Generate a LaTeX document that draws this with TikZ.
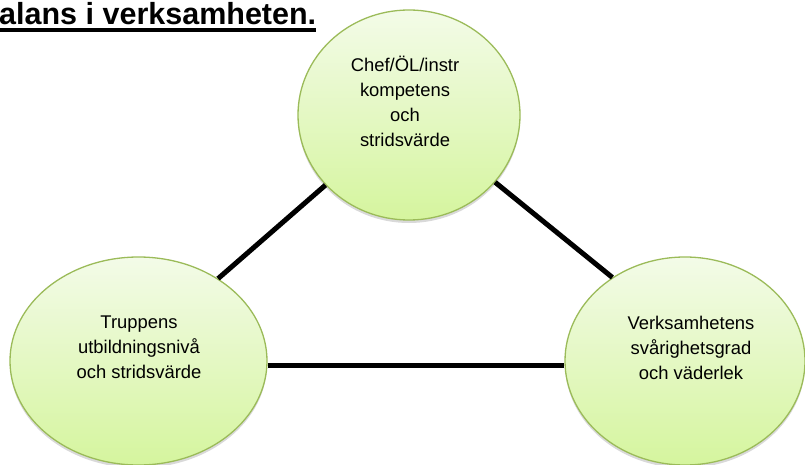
\documentclass[tikz,border=0pt]{standalone}
\usepackage{fontspec}
\setmainfont{Liberation Sans}
\usetikzlibrary{shapes.geometric,shadows}
\definecolor{randgruen}{RGB}{155,187,89}
\definecolor{obengruen}{RGB}{243,251,232}
\definecolor{untengruen}{RGB}{213,245,158}
\begin{document}
\begin{tikzpicture}[
    kreis/.style={ellipse, draw=randgruen, line width=1.3pt, inner sep=0pt,
        top color=obengruen, bottom color=untengruen,
        drop shadow={shadow xshift=0pt, shadow yshift=-3pt, opacity=0.3}},
    beschr/.style={align=center, inner sep=0pt, font=\fontsize{18.4pt}{25pt}\selectfont},
    verbindung/.style={line width=5pt}
  ]
    \useasboundingbox (0pt,0pt) rectangle (805pt, -465pt);
    \node[anchor=base west, inner sep=0pt, font=\fontsize{30.5pt}{36pt}\selectfont\bfseries] (titel) at (-1pt, -25pt) {alans i verksamheten.};
    \fill ([yshift=-3.5pt]titel.base west) rectangle ([yshift=-7pt]titel.base east);
    \node[kreis, minimum width=222pt, minimum height=210pt] (chef) at (409pt, -115pt) {};
    \node[kreis, minimum width=257pt, minimum height=208pt] (trupp) at (138.5pt, -361pt) {};
    \node[kreis, minimum width=240pt, minimum height=208pt] (verks) at (685pt, -361pt) {};
    \node[beschr] (chefText) at (405pt, -101pt) {Chef/ÖL/instr\\kompetens\\och\\stridsvärde};
    \node[beschr] (truppText) at (139pt, -347pt) {Truppens\\utbildningsnivå\\och stridsvärde};
    \node[beschr] (verksText) at (691pt, -348pt) {Verksamhetens\\svårighetsgrad\\och väderlek};
    \draw[verbindung] (chef.220.3) -- (trupp.46.2);
    \draw[verbindung] (chef.-38.2) -- (verks.131.7);
    \draw[verbindung] (trupp.-2) -- (trupp.-2 -| verks.west);
\end{tikzpicture}
\end{document}
